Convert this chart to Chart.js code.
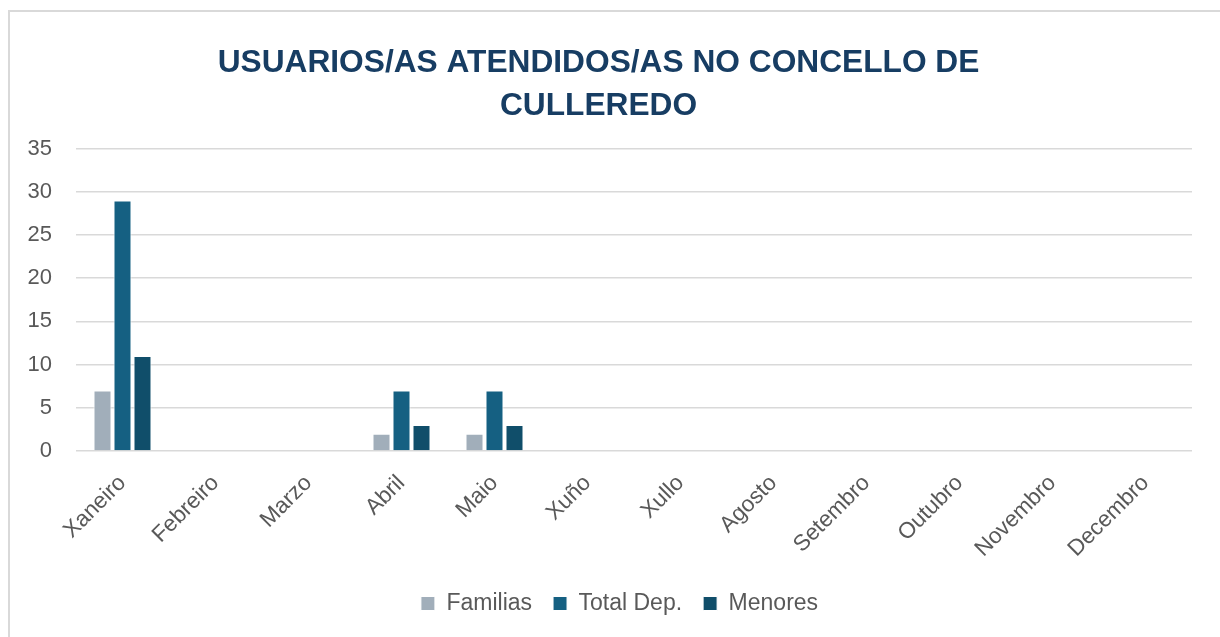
<!DOCTYPE html>
<html>
<head>
<meta charset="utf-8">
<script src="https://cdn.jsdelivr.net/npm/chart.js@4.4.1/dist/chart.umd.min.js"></script>
<style>
  html, body { margin: 0; padding: 0; background: #ffffff; overflow: hidden; }
  #frame { position: absolute; left: 8px; top: 10px; width: 1400px; height: 800px;
           border-left: 2px solid #d9d9d9; border-top: 2px solid #d9d9d9; }
  #wrap { position: absolute; left: 0; top: 0; width: 1220px; height: 637px; }
</style>
</head>
<body>
<div id="frame"></div>
<div id="wrap"><canvas id="c" width="1220" height="637"></canvas></div>
<script>
const categories = ['Xaneiro','Febreiro','Marzo','Abril','Maio','Xuño','Xullo','Agosto','Setembro','Outubro','Novembro','Decembro'];
const familias  = [7, 0, 0, 2, 2, 0, 0, 0, 0, 0, 0, 0];
const totalDep  = [29, 0, 0, 7, 7, 0, 0, 0, 0, 0, 0, 0];
const menores   = [11, 0, 0, 3, 3, 0, 0, 0, 0, 0, 0, 0];
const seriesNames = ['Familias', 'Total Dep.', 'Menores'];
const yTicks = [0, 5, 10, 15, 20, 25, 30, 35];
const titleLines = ['USUARIOS/AS ATENDIDOS/AS NO CONCELLO DE', 'CULLEREDO'];

const FONT = "'Liberation Sans', Arial, sans-serif";
const colors = ['#A1AEBA', '#156082', '#104E6A'];

const mk = (label, data, color) => ({
  label, data, backgroundColor: color, borderColor: '#ffffff', borderWidth: 1,
  categoryPercentage: 0.645, barPercentage: 0.9
});

const shiftLegend = {
  id: 'shiftLegend',
  afterLayout(chart) {
    const l = chart.legend;
    if (l) { l.left += 21; l.right += 21; }
  }
};

new Chart(document.getElementById('c'), {
  type: 'bar',
  data: {
    labels: categories,
    datasets: [
      mk(seriesNames[0], familias, colors[0]),
      mk(seriesNames[1], totalDep, colors[1]),
      mk(seriesNames[2], menores, colors[2])
    ]
  },
  plugins: [shiftLegend],
  options: {
    responsive: false,
    animation: false,
    layout: { padding: { left: 5, right: 28, top: 0, bottom: 12 } },
    plugins: {
      title: {
        display: true,
        text: titleLines,
        color: '#173D63',
        font: { family: FONT, size: 31.7, weight: 'bold', lineHeight: 1.35 },
        padding: { top: 42, bottom: 21 }
      },
      legend: {
        position: 'bottom',
        labels: {
          color: '#595959',
          font: { family: FONT, size: 23 },
          boxWidth: 14, boxHeight: 14, padding: 21
        }
      },
      tooltip: { enabled: false }
    },
    scales: {
      x: {
        grid: { display: false },
        border: { display: false },
        ticks: {
          color: '#595959', font: { family: FONT, size: 22.5 },
          minRotation: 45, maxRotation: 45, autoSkip: false, padding: 11
        },
        afterFit: (s) => { s.height = 120; }
      },
      y: {
        min: 0, max: 35,
        afterBuildTicks: (s) => { s.ticks = yTicks.map(v => ({ value: v })); },
        grid: { color: '#D9D9D9', lineWidth: 1.5, drawTicks: false },
        border: { display: false },
        ticks: { color: '#595959', font: { family: FONT, size: 22 }, padding: 24 },
        afterFit: (s) => { s.width = 71; }
      }
    }
  }
});
</script>
</body>
</html>
